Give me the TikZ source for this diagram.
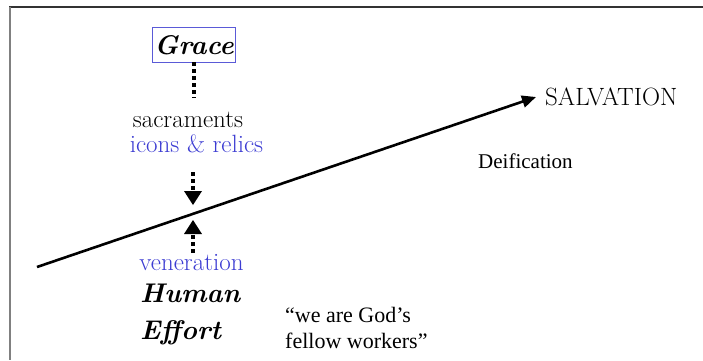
\documentclass[tikz,border=0pt]{standalone}
\usepackage{fontspec}
\setmainfont{Liberation Serif}
\newfontfamily\lmr{Latin Modern Roman}
\newcommand{\bigfont}{\lmr\fontsize{25}{30}\selectfont}
\newcommand{\bifont}{\lmr\fontsize{27}{32}\selectfont\bfseries\itshape}
\usetikzlibrary{arrows.meta}
\definecolor{bluetxt}{RGB}{60,60,210}
\definecolor{boxblue}{RGB}{90,90,215}
\begin{document}
\begin{tikzpicture}[x=1pt,y=-1pt,
  txt/.style={inner sep=0pt,anchor=base west},
  ctxt/.style={inner sep=0pt,anchor=base},
  dotline/.style={line width=4pt,dash pattern=on 4pt off 3pt},
  mainline/.style={line width=2.6pt,-{Triangle[width=12pt,length=14pt]}}]
\useasboundingbox (0,0) rectangle (703,360);
% texts
\node[minimum width=82pt,minimum height=34pt,inner sep=0pt] (grace) at (194,45) {\bifont Grace};
\node[ctxt] (sacr) at (188,127) {\bigfont sacraments};
\node[ctxt,text=bluetxt] (icons) at (196.5,152) {\bigfont icons \& relics};
\node[ctxt,text=bluetxt] (ven) at (191.5,270) {\bigfont veneration};
\node[txt] (human) at (140,302) {\bifont Human};
\node[txt] (effort) at (140,339) {\bifont Effort};
\node[txt] (salv) at (545,105) {\bigfont SALVATION};
\node[txt] (q1) at (285,322) {\fontsize{22}{26}\selectfont “we are God’s};
\node[txt] (q2) at (285,348) {\fontsize{22}{26}\selectfont fellow workers”};
\node[txt] (deif) at (478,168) {\fontsize{21}{25}\selectfont Deification};
% frame
\draw[line width=1.6pt,black!80] (9,7) -- (703,7);
\draw[line width=2pt,black!50] (9.5,6.5) -- (9.5,360);
% Grace box
\draw[boxblue,line width=0.9pt] (grace.south west) rectangle (grace.north east);
% main line
\coordinate (start) at (37,267);
\coordinate (tip) at (536,97);
\draw[mainline] (start) -- (tip);
% dotted connectors
\coordinate (g1) at (194,98);
\draw[dotline] (grace.south) -- (g1);
\coordinate (d1) at (193,172);
\coordinate (d2) at (193,205);
\draw[dotline] (d1) -- (193,192);
\fill (184,191) -- (202,191) -- (d2) -- cycle;
\coordinate (u1) at (193,253);
\coordinate (u2) at (193,220);
\draw[dotline] (u1) -- (193,233);
\fill (184,234) -- (202,234) -- (u2) -- cycle;
\end{tikzpicture}
\end{document}
